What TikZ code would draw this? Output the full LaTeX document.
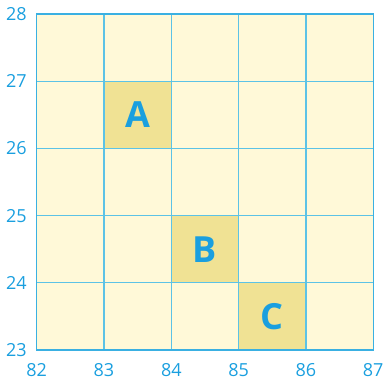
\documentclass[tikz,border=0pt]{standalone}
\usepackage{fontspec}
\setmainfont{Open Sans}
\definecolor{cellfill}{HTML}{FFF9D8}
\definecolor{hifill}{HTML}{F0E294}
\definecolor{gridline}{HTML}{5CC3E6}
\definecolor{frameblue}{HTML}{3AB0E2}
\definecolor{txtblue}{HTML}{1A9FDF}
\tikzset{
  tick/.style={text=txtblue, font=\fontsize{18bp}{20bp}\selectfont, inner sep=0pt},
  letter/.style={text=txtblue, font=\fontsize{36bp}{38bp}\selectfont\bfseries, inner sep=0pt},
  hicell/.style={fill=hifill},
  gridstyle/.style={gridline, line width=1.3bp},
}
\begin{document}
\begin{tikzpicture}[x=67.3bp, y=67.2bp]
\useasboundingbox (-0.545,-0.4315) rectangle (5.19,5.208);
\fill[cellfill] (0,0) rectangle (5,5);
\fill[hicell] (1,3) rectangle (2,4);
\fill[hicell] (2,1) rectangle (3,2);
\fill[hicell] (3,0) rectangle (4,1);
\foreach \i in {1,2,3,4}{
  \draw[gridstyle] (\i,0) -- (\i,5);
  \draw[gridstyle] (0,\i) -- (5,\i);
}
\draw[frameblue, line width=1.3bp] (0,0) rectangle (5,5);
\node[letter] (A) at (1.5,3.5) {A};
\node[letter] (B) at (2.5,1.5) {B};
\node[letter] (C) at (3.5,0.5) {C};
\foreach \i in {0,...,5}{
  \pgfmathtruncatemacro{\lab}{82+\i}
  \node[tick] (x\i) at (\i,-0.293) {\lab};
}
\foreach \j in {0,...,5}{
  \pgfmathtruncatemacro{\lab}{23+\j}
  \node[tick, anchor=east] (y\j) at (-0.145,\j) {\lab};
}
\end{tikzpicture}
\end{document}
